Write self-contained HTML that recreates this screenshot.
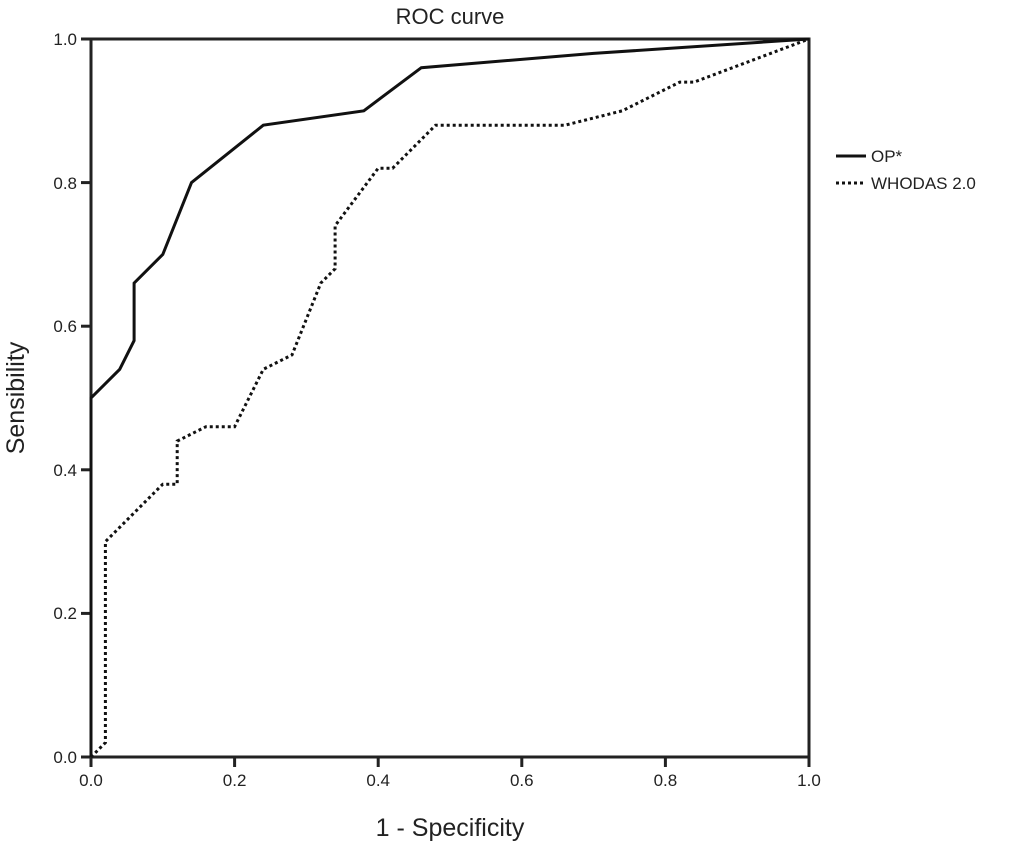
<!DOCTYPE html>
<html><head><style>body{margin:0;background:#fff}svg{display:block}</style></head><body>
<svg width="1024" height="845" xmlns="http://www.w3.org/2000/svg" font-family="Liberation Sans, sans-serif" fill="#222">
<text x="450" y="24" font-size="22" text-anchor="middle">ROC curve</text>
<rect x="91" y="39" width="718" height="718" fill="none" stroke="#222" stroke-width="3"/>
<g stroke="#222" stroke-width="3">
<line x1="81" y1="39" x2="91" y2="39"/><line x1="81" y1="182.6" x2="91" y2="182.6"/><line x1="81" y1="326.2" x2="91" y2="326.2"/><line x1="81" y1="469.8" x2="91" y2="469.8"/><line x1="81" y1="613.4" x2="91" y2="613.4"/><line x1="81" y1="757" x2="91" y2="757"/>
<line x1="91" y1="757" x2="91" y2="767"/><line x1="234.6" y1="757" x2="234.6" y2="767"/><line x1="378.2" y1="757" x2="378.2" y2="767"/><line x1="521.8" y1="757" x2="521.8" y2="767"/><line x1="665.4" y1="757" x2="665.4" y2="767"/><line x1="809" y1="757" x2="809" y2="767"/>
</g>
<g font-size="17" text-anchor="end">
<text x="77" y="45">1.0</text><text x="77" y="189">0.8</text><text x="77" y="332">0.6</text><text x="77" y="476">0.4</text><text x="77" y="619">0.2</text><text x="77" y="763">0.0</text>
</g>
<g font-size="17" text-anchor="middle">
<text x="91" y="786">0.0</text><text x="234.6" y="786">0.2</text><text x="378.2" y="786">0.4</text><text x="521.8" y="786">0.6</text><text x="665.4" y="786">0.8</text><text x="809" y="786">1.0</text>
</g>
<text x="450" y="836" font-size="25" text-anchor="middle">1 - Specificity</text>
<text transform="translate(24,398) rotate(-90)" font-size="25" text-anchor="middle">Sensibility</text>
<polyline fill="none" stroke="#111" stroke-width="3" points="91,757 91,398 119.7,369.3 134.1,340.6 134.1,283.1 162.8,254.4 191.5,182.6 263.3,125.2 363.8,110.8 421.3,67.7 593.6,53.4 809,39"/>
<polyline fill="none" stroke="#111" stroke-width="3" stroke-dasharray="3,3" points="91,757 105.4,742.6 105.4,541.6 162.8,484.2 177.2,484.2 177.2,441.1 205.9,426.7 234.6,426.7 263.3,369.3 292,354.9 320.8,283.1 335.1,268.8 335.1,225.7 378.2,168.2 392.6,168.2 435.6,125.2 564.9,125.2 622.3,110.8 679.8,82.1 694.1,82.1 809,39"/>
<line x1="836" y1="156" x2="866" y2="156" stroke="#111" stroke-width="3"/>
<line x1="836" y1="183" x2="866" y2="183" stroke="#111" stroke-width="3" stroke-dasharray="3,3"/>
<text x="871" y="162" font-size="17">OP*</text>
<text x="871" y="189" font-size="17">WHODAS 2.0</text>
</svg>
</body></html>
